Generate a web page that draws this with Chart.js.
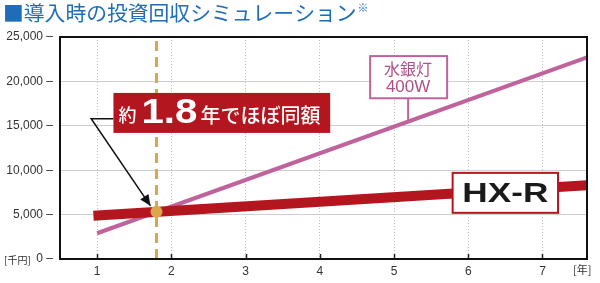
<!DOCTYPE html>
<html>
<head>
<meta charset="utf-8">
<script src="https://cdn.jsdelivr.net/npm/chart.js@4"></script>
<style>
  html, body { margin: 0; padding: 0; background: #fff; }
  #wrap { width: 600px; height: 283px; position: relative; }
</style>
</head>
<body>
<div id="wrap"><canvas id="payback"></canvas></div>
<script>
// chart data
const yearTicks = [1, 2, 3, 4, 5, 6, 7];
const costTicks = [0, 5000, 10000, 15000, 20000, 25000];
const hxrYears = [0.95, 7.6];
const hxrCost = [4880, 8300];
const mercuryYears = [1, 7.6];
const mercuryCost = [2900, 22700];
const breakEvenYear = 1.8;
const breakEvenCost = 5310;

const titleText = '■導入時の投資回収シミュレーション';
const RED = '#b3161e';
const PURPLE = '#c0639c';
const ORANGE = '#dca74c';

const toPoints = (xs, ys) => xs.map((x, i) => ({ x: x, y: ys[i] }));

// extra drawing: title, frame, inner ticks, callouts
const decorations = {
    id: 'decorations',
    beforeDraw(chart) {
        const ctx = chart.ctx;
        ctx.save();
        ctx.fillStyle = '#fff';
        ctx.fillRect(0, 0, chart.width, chart.height);
        ctx.fillStyle = '#1f6db8';
        ctx.textBaseline = 'middle';
        ctx.font = '400 20.8px "Noto Sans CJK JP"';
        ctx.fillText(titleText, 3, 13);
        const w = ctx.measureText(titleText).width;
        ctx.font = '11px "Noto Sans CJK JP"';
        ctx.fillText('※', 3 + w + 1, 8);
        ctx.restore();
    },
    afterDatasetsDraw(chart) {
        const ctx = chart.ctx;
        const a = chart.chartArea;
        const xs = chart.scales.x;
        const ys = chart.scales.y;
        ctx.save();

        // inner x tick marks
        ctx.strokeStyle = '#222';
        ctx.lineWidth = 1.5;
        yearTicks.forEach(v => {
            const px = Math.round(xs.getPixelForValue(v)) + 0.5;
            ctx.beginPath();
            ctx.moveTo(px, a.bottom);
            ctx.lineTo(px, a.bottom - 5);
            ctx.stroke();
        });

        // frame
        ctx.strokeStyle = '#111';
        ctx.lineWidth = 2;
        ctx.strokeRect(a.left, a.top, a.right - a.left, a.bottom - a.top);

        // axis units
        ctx.fillStyle = '#333';
        ctx.textBaseline = 'middle';
        ctx.font = '10px "Noto Sans CJK JP"';
        ctx.fillText('[千円]', 4, a.bottom + 1);
        ctx.font = '11px "Noto Sans CJK JP"';
        ctx.fillText('[年]', a.right - 14, a.bottom + 11);

        // break-even callout
        const bx = breakEvenYear, by = breakEvenCost;
        const dotX = xs.getPixelForValue(bx), dotY = ys.getPixelForValue(by);
        const boxL = xs.getPixelForValue(1.22), boxR = xs.getPixelForValue(4.14);
        const boxT = ys.getPixelForValue(18700), boxB = ys.getPixelForValue(14200);
        const elbowX = xs.getPixelForValue(0.92), elbowY = ys.getPixelForValue(15800);
        ctx.strokeStyle = '#111';
        ctx.lineWidth = 1.5;
        ctx.beginPath();
        ctx.moveTo(boxL, elbowY);
        ctx.lineTo(elbowX, elbowY);
        const tipX = dotX - 6, tipY = dotY - 6;
        ctx.lineTo(tipX, tipY);
        ctx.stroke();
        const ang = Math.atan2(tipY - elbowY, tipX - elbowX);
        ctx.fillStyle = '#111';
        ctx.beginPath();
        ctx.moveTo(tipX, tipY);
        ctx.lineTo(tipX - 11 * Math.cos(ang) + 5 * Math.sin(ang), tipY - 11 * Math.sin(ang) - 5 * Math.cos(ang));
        ctx.lineTo(tipX - 11 * Math.cos(ang) - 5 * Math.sin(ang), tipY - 11 * Math.sin(ang) + 5 * Math.cos(ang));
        ctx.closePath();
        ctx.fill();

        ctx.fillStyle = RED;
        ctx.fillRect(boxL, boxT, boxR - boxL, boxB - boxT);
        ctx.fillStyle = '#fff';
        ctx.textBaseline = 'alphabetic';
        const base = boxT + 30;
        let tx = boxL + 5;
        ctx.font = '500 18px "Noto Sans CJK JP"';
        ctx.fillText('約', tx, base - 1);
        tx += ctx.measureText('約').width + 5;
        ctx.font = 'bold 35px "Liberation Sans"';
        ctx.save();
        ctx.translate(tx, base);
        ctx.scale(1.15, 1);
        ctx.fillText('1.8', 0, 0);
        ctx.restore();
        tx += ctx.measureText('1.8').width * 1.15 + 3;
        ctx.font = '500 20px "Noto Sans CJK JP"';
        ctx.fillText('年でほぼ同額', tx, base);

        // mercury lamp label
        const mx = xs.getPixelForValue(5.19);
        const mL = mx - 38, mR = mx + 39;
        const mT = ys.getPixelForValue(22850), mB = ys.getPixelForValue(18100);
        ctx.strokeStyle = PURPLE;
        ctx.lineWidth = 2;
        ctx.beginPath();
        ctx.moveTo(mx, mB);
        ctx.lineTo(mx, ys.getPixelForValue(2900 + (5.19 - 1) * 3000));
        ctx.stroke();
        ctx.fillStyle = '#fff';
        ctx.fillRect(mL, mT, mR - mL, mB - mT);
        ctx.strokeRect(mL, mT, mR - mL, mB - mT);
        ctx.fillStyle = '#b0508a';
        ctx.textAlign = 'center';
        ctx.textBaseline = 'middle';
        ctx.font = '16px "Noto Sans CJK JP"';
        ctx.fillText('水銀灯', mx, mT + 13);
        ctx.font = '17px "Liberation Sans"';
        ctx.fillText('400W', mx, mT + 31);

        // HX-R label
        const hL = xs.getPixelForValue(5.79), hR = xs.getPixelForValue(7.21);
        const hT = ys.getPixelForValue(9700), hB = ys.getPixelForValue(5200);
        ctx.fillStyle = '#fff';
        ctx.fillRect(hL, hT, hR - hL, hB - hT);
        ctx.strokeStyle = RED;
        ctx.lineWidth = 2;
        ctx.strokeRect(hL, hT, hR - hL, hB - hT);
        ctx.fillStyle = '#1a1a1a';
        ctx.font = 'bold 28px "Liberation Sans"';
        const hw = ctx.measureText('HX-R').width;
        ctx.save();
        ctx.translate((hL + hR) / 2, (hT + hB) / 2 + 1);
        ctx.scale(86 / hw, 1);
        ctx.fillText('HX-R', 0, 0);
        ctx.restore();

        ctx.restore();
    }
};

new Chart(document.getElementById('payback'), {
    type: 'line',
    data: {
        datasets: [
            {
                type: 'scatter',
                data: [{ x: breakEvenYear, y: breakEvenCost }],
                pointRadius: 6,
                pointBackgroundColor: ORANGE,
                pointBorderWidth: 0
            },
            {
                data: [{ x: breakEvenYear, y: costTicks[0] }, { x: breakEvenYear, y: costTicks[costTicks.length - 1] }],
                borderColor: ORANGE,
                borderWidth: 3,
                borderDash: [10, 6],
                pointRadius: 0
            },
            {
                data: toPoints(hxrYears, hxrCost),
                borderColor: RED,
                borderWidth: 10,
                pointRadius: 0
            },
            {
                data: toPoints(mercuryYears, mercuryCost),
                borderColor: PURPLE,
                borderWidth: 4,
                pointRadius: 0
            }
        ]
    },
    options: {
        responsive: true,
        maintainAspectRatio: false,
        animation: false,
        layout: { padding: { top: 37, right: 13, left: 0, bottom: 0 } },
        plugins: { legend: { display: false }, tooltip: { enabled: false } },
        scales: {
            x: {
                type: 'linear',
                min: 0.5,
                max: 7.6,
                afterBuildTicks: s => { s.ticks = yearTicks.map(v => ({ value: v })); },
                afterFit: s => { s.height = 24; },
                grid: { color: '#bdbdbd', lineWidth: 1, drawTicks: false },
                border: { display: false, dash: [1, 2] },
                ticks: { padding: 5, color: '#333', font: { family: 'Liberation Sans', size: 12 } }
            },
            y: {
                min: 0,
                max: 25000,
                afterBuildTicks: s => { s.ticks = costTicks.map(v => ({ value: v })); },
                afterFit: s => { s.width = 60; },
                grid: { color: '#cfcfcf', lineWidth: 1, drawTicks: false },
                border: { display: false },
                ticks: {
                    padding: 7,
                    color: '#333',
                    font: { family: 'Liberation Sans', size: 12 },
                    callback: v => v.toLocaleString('en-US') + ' –'
                }
            }
        }
    },
    plugins: [decorations]
});
</script>
</body>
</html>
